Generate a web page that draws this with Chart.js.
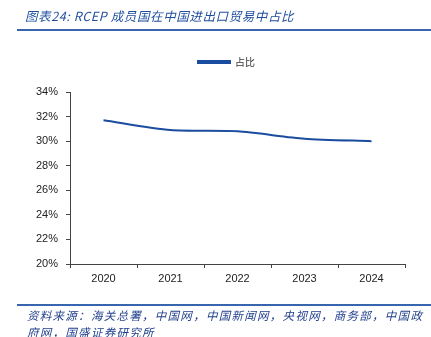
<!DOCTYPE html>
<html>
<head>
<meta charset="utf-8">
<script src="https://cdn.jsdelivr.net/npm/chart.js@4"></script>
<style>
  html, body { margin: 0; padding: 0; background: #fff; }
  #wrap { position: relative; width: 431px; height: 337px; overflow: hidden; }
  #chart { position: absolute; left: 0; top: 0; }
  .cap {
    position: absolute; left: 27px;
    font-family: "Noto Sans CJK SC", sans-serif; font-style: italic;
    color: #1f4e9e; white-space: nowrap;
  }
  #title { top: 6px; left: 25px; font-size: 12.5px; letter-spacing: 0.6px; }
  #note { top: 307px; font-size: 11.5px; line-height: 16.5px; letter-spacing: 1.28px; color: #23418c; }
  .rule { position: absolute; left: 17px; right: 0; height: 2px; background: #3765ae; }
</style>
</head>
<body>
<div id="wrap">
  <canvas id="chart" width="431" height="337"></canvas>
  <div id="title" class="cap">图表24:&nbsp;RCEP 成员国在中国进出口贸易中占比</div>
  <div class="rule" style="top:29px"></div>
  <div class="rule" style="top:304px"></div>
  <div id="note" class="cap">资料来源：海关总署，中国网，中国新闻网，央视网，商务部，中国政<br>府网，国盛证券研究所</div>
</div>
<script>
  /* ---- 数据 ---- */
  const years = ["2020", "2021", "2022", "2023", "2024"];
  const shareValues = [31.7, 30.9, 30.8, 30.2, 30.0];
  const seriesName = "占比";
  const yTicks = [20, 22, 24, 26, 28, 30, 32, 34];

  const lineColor = "#1a4c9f";
  const axisColor = "#444";

  // 给图例下面留出空白, 并把图例往右挪一点
  const legendGap = {
    id: "legendGap",
    beforeInit(chart) {
      const fit = chart.legend.fit;
      chart.legend.fit = function () {
        fit.bind(chart.legend)();
        this.height += 15;
      };
    },
    afterLayout(chart) {
      chart.legend.left += 48;
    }
  };

  new Chart(document.getElementById("chart").getContext("2d"), {
    type: "line",
    data: {
      labels: years,
      datasets: [{
        label: seriesName,
        data: shareValues,
        borderColor: lineColor,
        backgroundColor: lineColor,
        borderWidth: 2,
        pointRadius: 0,
        tension: 0.25,
        fill: false
      }]
    },
    options: {
      responsive: false,
      animation: false,
      layout: { padding: { left: 0, right: 26, top: 47, bottom: 0 } },
      plugins: {
        legend: {
          position: "top",
          labels: {
            boxWidth: 32,
            boxHeight: 2,
            padding: 10,
            color: "#333",
            font: { family: "'Noto Sans CJK SC'", size: 10 }
          }
        },
        tooltip: { enabled: false }
      },
      scales: {
        x: {
          offset: true,
          afterFit: s => { s.height = 73; },
          grid: {
            offset: true,
            drawOnChartArea: false,
            drawTicks: true,
            tickLength: 4,
            color: axisColor
          },
          border: { display: true, color: axisColor, width: 1 },
          ticks: {
            color: "#222",
            padding: 4,
            font: { family: "'Liberation Sans'", size: 11 }
          }
        },
        y: {
          min: 20,
          max: 34,
          afterFit: s => { s.width = 70; },
          afterBuildTicks: s => { s.ticks = yTicks.map(v => ({ value: v })); },
          grid: {
            drawOnChartArea: false,
            drawTicks: true,
            tickLength: 4,
            color: axisColor
          },
          border: { display: true, color: axisColor, width: 1 },
          ticks: {
            color: "#222",
            padding: 8,
            callback: v => v + "%",
            font: { family: "'Liberation Sans'", size: 11 }
          }
        }
      }
    },
    plugins: [legendGap]
  });
</script>
</body>
</html>
